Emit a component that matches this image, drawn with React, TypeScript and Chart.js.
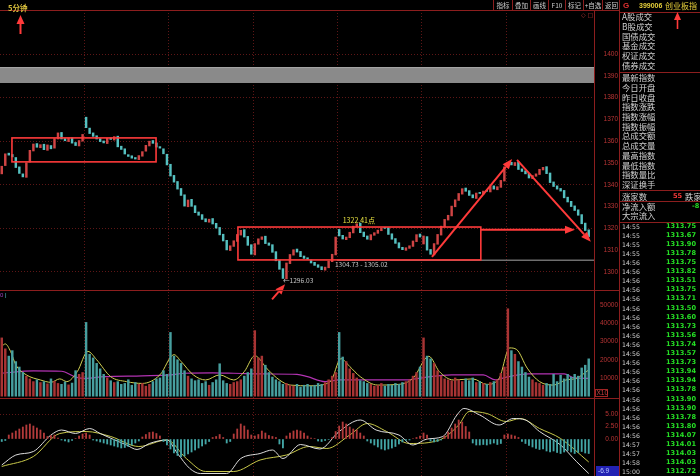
import React, { useEffect, useRef } from 'react';
import { Chart, registerables } from 'chart.js';
Chart.register(...registerables);

// ---------- data ----------
const BARS_PER_DAY = 24;
const OPEN = [
  1345.0, 1348.8, 1354.5, 1353.9, 1352.5, 1348.2, 1345.0, 1343.4, 1350.4, 1355.5,
  1358.9, 1357.0, 1358.6, 1355.8, 1358.0, 1356.8, 1361.0, 1364.0, 1361.2, 1359.8,
  1361.6, 1359.4, 1357.8, 1360.0, 1371.0, 1366.0, 1363.8, 1362.5, 1361.2, 1360.1,
  1358.9, 1361.5, 1360.5, 1362.3, 1357.7, 1356.5, 1353.8, 1353.3, 1352.5, 1351.5,
  1353.1, 1355.4, 1357.8, 1360.3, 1359.2, 1357.5, 1356.5, 1354.0, 1349.4, 1344.3,
  1341.5, 1338.3, 1335.4, 1329.9, 1333.3, 1330.4, 1327.5, 1326.3, 1324.4, 1322.8,
  1324.5, 1322.3, 1320.4, 1317.3, 1314.5, 1309.8, 1311.7, 1314.0, 1316.9, 1319.4,
  1316.3, 1312.5, 1307.8, 1312.7, 1314.9, 1316.4, 1313.3, 1312.5, 1309.3, 1305.4,
  1301.5, 1296.8, 1303.8, 1307.7, 1310.5, 1309.4, 1307.3, 1306.5, 1305.5, 1304.4,
  1303.3, 1302.4, 1300.8, 1301.9, 1304.7, 1307.8, 1319.5, 1316.8, 1314.8, 1315.7,
  1317.9, 1320.7, 1322.4, 1318.3, 1316.5, 1314.7, 1316.8, 1317.7, 1318.9, 1320.4,
  1320.3, 1317.5, 1315.3, 1313.4, 1311.3, 1309.9, 1310.8, 1311.7, 1313.9, 1317.4,
  1312.8, 1316.2, 1310.3, 1307.8, 1312.7, 1316.9, 1320.7, 1323.8, 1325.7, 1329.9,
  1332.8, 1335.7, 1338.5, 1337.3, 1335.4, 1333.7, 1336.5, 1335.7, 1337.4, 1336.7,
  1339.5, 1337.7, 1338.8, 1341.7, 1347.9, 1350.3, 1348.8, 1350.5, 1347.3, 1346.4,
  1345.3, 1342.8, 1343.9, 1344.7, 1346.8, 1348.3, 1345.4, 1341.3, 1339.5, 1338.3,
  1337.4, 1334.3, 1332.4, 1330.3, 1328.5, 1326.3, 1322.4, 1319.3,
];
const CLOSE = [
  1348.5, 1354.2, 1353.6, 1352.8, 1347.9, 1345.2, 1343.6, 1350.1, 1355.8, 1358.7,
  1357.2, 1358.4, 1356.1, 1358.3, 1356.5, 1361.2, 1363.8, 1361.0, 1360.2, 1361.4,
  1359.1, 1358.0, 1360.3, 1363.1, 1366.2, 1363.5, 1362.2, 1361.0, 1359.8, 1359.2,
  1361.3, 1360.8, 1362.1, 1357.4, 1356.2, 1354.1, 1353.0, 1352.2, 1351.8, 1353.4,
  1355.2, 1358.1, 1360.0, 1359.0, 1357.3, 1356.8, 1354.2, 1349.1, 1344.0, 1341.2,
  1338.0, 1335.1, 1330.2, 1333.0, 1330.1, 1327.2, 1326.0, 1324.1, 1323.0, 1324.2,
  1322.0, 1320.1, 1317.0, 1314.2, 1310.1, 1312.0, 1314.3, 1317.2, 1319.1, 1316.0,
  1312.2, 1308.1, 1313.0, 1315.2, 1316.1, 1313.0, 1312.2, 1309.0, 1305.1, 1301.2,
  1297.0, 1304.1, 1308.0, 1310.2, 1309.1, 1307.0, 1306.2, 1305.8, 1304.1, 1303.0,
  1302.1, 1301.0, 1302.2, 1305.0, 1308.1, 1316.0, 1316.5, 1315.1, 1316.0, 1318.2,
  1321.0, 1322.1, 1318.0, 1316.2, 1315.0, 1317.1, 1318.0, 1319.2, 1320.1, 1320.0,
  1317.2, 1315.0, 1313.1, 1311.0, 1310.2, 1311.1, 1312.0, 1314.2, 1317.1, 1316.0,
  1316.5, 1310.0, 1308.1, 1313.0, 1317.2, 1321.0, 1324.1, 1326.0, 1330.2, 1333.1,
  1336.0, 1338.2, 1337.0, 1335.1, 1334.0, 1336.2, 1336.0, 1337.1, 1337.0, 1339.2,
  1338.0, 1339.1, 1342.0, 1348.2, 1350.0, 1349.1, 1350.2, 1347.0, 1346.1, 1345.0,
  1343.1, 1344.2, 1345.0, 1347.1, 1348.0, 1345.1, 1341.0, 1339.2, 1338.0, 1337.1,
  1334.0, 1332.1, 1330.0, 1328.2, 1326.0, 1322.1, 1319.0, 1316.2,
];
const VOLUME = [
  32000, 26000, 22000, 25000, 19000, 16000, 13000, 11000, 9500, 8000, 9000, 7500, 8000, 6800, 9500, 8200, 7000, 6500, 7800, 6200, 7200, 14000, 12000, 13000,
  40500, 23000, 21000, 18000, 15000, 12000, 10000, 8500, 7500, 8000, 6500, 7000, 9000, 6000, 7500, 6500, 7000, 5500, 6500, 8000, 9500, 10000, 14000, 12000,
  35000, 22000, 20000, 18000, 14000, 11000, 9500, 8500, 9000, 7000, 8000, 6000, 7500, 9000, 17800, 8500, 7000, 6500, 7500, 8000, 9000, 11000, 13000, 15000,
  36000, 21000, 22000, 17000, 13000, 10500, 9000, 8000, 6500, 7000, 6000, 5500, 6500, 5000, 6000, 6500, 5500, 6000, 7000, 6500, 7500, 9000, 11000, 13000,
  35000, 21500, 19000, 15000, 12500, 10000, 8500, 8000, 7000, 6500, 5500, 6000, 7000, 5500, 6500, 6000, 7000, 6500, 7500, 8000, 9000, 11000, 13000, 16000,
  32000, 22000, 20500, 18000, 14000, 11000, 9500, 9000, 8500, 10000, 9000, 8000, 9500, 8500, 10000, 7500, 8000, 7000, 6500, 7500, 8000, 9000, 12500, 16000,
  48000, 25000, 23000, 19000, 16000, 13000, 10500, 9000, 7500, 7000, 6000, 7000, 6500, 12000, 8000, 11500, 9500, 12000, 10500, 12000, 11000, 15500, 17000, 20500,
];
const VOL_MA5: [number, number][] = [
  [0, 27400], [1, 28700], [2.5, 24600], [4, 17200], [7, 11700], [11, 8900], [14, 7600], [16.5, 9500], [18.5, 8000], [21.5, 13500],
  [24.5, 24600], [27, 20000], [31, 10700], [35.5, 8000], [40, 7000], [45, 11700], [49, 22800], [51, 19100], [54.5, 11700], [58, 8900],
  [62, 11700], [66, 8900], [69, 13500], [72, 22200], [75.5, 15000], [79, 8900], [82, 6100], [88, 5700], [93.5, 8000], [96.5, 20600],
  [99, 16300], [102, 10700], [107, 6100], [113, 6500], [117, 9800], [121.5, 21900], [124.5, 13500], [128.5, 8900], [134, 9500], [138, 6500],
  [141.5, 9800], [144.5, 26500], [146.5, 25600], [149.5, 15400], [153, 8000], [157, 6100], [160.5, 8900], [163.5, 9800], [167, 14400],
];
const VOL_MA10: [number, number][] = [
  [0, 12600], [9, 13900], [17, 13700], [21, 10500], [24, 9800], [29, 10700], [40, 11200], [48, 11700], [52, 12600], [60, 12800],
  [66, 12600], [75, 12200], [84, 12000], [87, 10700], [92, 8000], [96, 8900], [115, 8900], [120, 10200], [128, 11700], [137, 11700],
  [140.5, 8900], [143, 10200], [150, 12200], [160, 12200], [163, 10000], [167, 9800],
];
const MACD_HIST = [
  -0.5, -0.3, 0.8, 1.2, 1.6, 2.0, 2.4, 2.8, 3.0, 2.6, 2.2, 1.8,
  1.2, 0.5, 0.7, 0.8, 0.2, -0.2, -0.4, -0.6, -0.3, 0.1,
  0.6, 1.0, 1.2, 0.8,
  -0.2, -0.4, -0.6, -0.8, -1.0, -1.2, -1.4, -1.6, -1.8, -1.7, -1.5, -1.2, -0.8, -0.4,
  0.4, 0.9, 1.3, 1.4, 1.1, 0.6,
  -0.5, -1.2, -2.0, -2.8, -3.3, -3.6, -3.4, -3.0, -2.6, -2.2, -1.8, -1.4,
  -1.0, -0.5, 0.3, 0.5, 0.9, 0.3, -0.8, -0.5,
  1.0, 2.0, 3.0, 2.6, 1.8, 0.8, 0.6, 0.9, 1.6, 1.2, 0.7, 0.5, 0.3,
  -1.0, -1.8, 0.6, 1.2, 1.6, 1.8, 1.6, 1.2, 0.6, 0.2, 0.1,
  -0.4, -0.5, -0.3, -0.1, 0.3, 1.5, 2.6, 3.4, 3.0, 2.4, 2.0, 1.8, 1.2, 0.6,
  -0.4, -0.8, -1.2, -1.6, -2.0, -2.2, -2.0, -1.8, -1.5, -1.0, -0.6, -0.3, -0.2,
  0.1, 0.3, 0.6, 1.2, 0.8, -0.4, -0.6, -0.5, -0.2,
  0.6, 1.4, 2.2, 3.0, 3.8, 3.4, 2.5, 1.4,
  -0.8, -1.2, -1.2, -1.1, -1.2, -1.0, -0.8, -1.1, -0.9,
  0.8, 1.0, 0.8, 0.6, 0.3,
  -0.5, -0.9, -1.3, -1.6, -1.9, -2.1, -2.0, -2.4, -2.6, -2.4, -2.7, -2.9, -2.6, -2.3, -2.6, -2.9, -2.7, -2.5, -2.8, -2.9,
];
const MACD_DIF: [number, number][] = [
  [0, -5.2], [4, -3.2], [9, -2.5], [14, 0.8], [17, 1.8], [21, 1.1], [25, 2.1], [28, 1.1], [35.5, -1.2], [38.5, -2.1],
  [42, -0.9], [47, -0.2], [50, -2.9], [53.5, -5.9], [56.5, -6.9], [64, -6.9], [68, -3.9], [73.5, -2.9], [77, -2.2], [80, -3.9],
  [85, -1.1], [90.5, -2.0], [96, 1.5], [102, 3.8], [106.5, 1.8], [113, 0.8], [117, -1.2], [121, 0], [125.5, 0.5], [129.5, 4.8],
  [131.5, 6.1], [136, 4.8], [141.5, 2.8], [145.5, 4.1], [149, 3.8], [153, 1.5], [159, -1.2], [163.5, -4.5], [167, -6.9],
];
const MACD_DEA: [number, number][] = [
  [0, -5.5], [9, -3.5], [16.5, 1.1], [24, 1.5], [31, 0.5], [39, -1.5], [47, -0.2], [52.5, -3.9], [58, -6.5], [66, -6.5],
  [73.5, -4.2], [81, -3.2], [87.5, -1.5], [92.5, -1.9], [99, 0.8], [104, 3.1], [109.5, 1.5], [116, -0.9], [124.5, -0.2], [130, 2.8],
  [133, 5.5], [138, 5.1], [143.5, 3.5], [147.5, 4.1], [153, 2.1], [159, 0.1], [167, -4.6],
];

// axis ranges / labels
const PRICE_RANGE = [1291.7, 1420.2];
const PRICE_LABELS = [1300, 1310, 1320, 1330, 1340, 1350, 1360, 1370, 1380, 1390, 1400];
const VOL_RANGE = [-1000, 58300];
const VOL_LABELS = [10000, 20000, 30000, 40000, 50000];
const MACD_RANGE = [-7.4, 8.2];
const MACD_LABELS = [0, 2.5, 5];

// annotations (bar index, price)
const BAND = [1386.7, 1394.0];
const BOXES = [
  { i0: 2.9, i1: 43.9, p0: 1350.5, p1: 1361.5 },
  { i0: 67.2, i1: 136.3, p0: 1305.5, p1: 1320.6 },
];
const ARROWS = [
  [122.4, 1306.9, 145.2, 1351.8],
  [146.6, 1351.4, 167.6, 1313.8],
  [136.3, 1319.3, 163.1, 1319.3],
  [76.9, 1287.4, 80.6, 1294.3],
];
const GUIDE = { i0: 95.4, p: 1305.3 };
const NOTES = [
  { text: '1322.41点', i: 101.6, p: 1322.41, color: '#e6e040', align: 'center', base: 'alphabetic', size: 7 },
  { text: '←1296.03', i: 80.0, p: 1296.03, color: '#c4c4c4', align: 'left', base: 'middle', size: 6.6 },
  { text: '1304.73 - 1305.02', i: 94.8, p: 1303.2, color: '#c4c4c4', align: 'left', base: 'middle', size: 6.6 },
];

// side panel
const TOOLBAR = ['指标', '叠加', '画线', 'F10', '标记', '+自选', '返回'];
const TOOLBAR_W = [19, 18, 18, 17, 18, 19, 18];
const INFO_TOP = ['A股成交', 'B股成交', '国债成交', '基金成交', '权证成交', '债券成交'];
const INFO_MID = ['最新指数', '今日开盘', '昨日收盘', '指数涨跌', '指数涨幅', '指数振幅', '总成交额', '总成交量', '最高指数', '最低指数', '指数量比', '深证换手'];
const TICK_TIMES = ['14:55', '14:55', '14:55', '14:55', '14:56', '14:56', '14:56', '14:56', '14:56', '14:56', '14:56', '14:56', '14:56', '14:56',
  '14:56', '14:56', '14:56', '14:56', '14:56', '14:56', '14:56', '14:56', '14:56', '14:56', '14:57', '14:57', '14:58', '15:00'];
const TICK_PRICES = ['1313.75', '1313.67', '1313.90', '1313.78', '1313.75', '1313.82', '1313.51', '1313.75', '1313.71', '1313.50', '1313.60', '1313.73', '1313.56', '1313.74',
  '1313.57', '1313.73', '1313.94', '1313.94', '1313.78', '1313.90', '1313.90', '1313.78', '1313.80', '1314.07', '1314.01', '1314.03', '1314.03', '1312.72'];

// ---------- styles ----------
const UP = '#cf4444';
const DOWN = '#55c0c0';
const VUP = '#a83434';
const VDOWN = '#479f9f';
const GRID = '#5e1616';
const FRAME = '#8c1e1e';
const AXIS_TXT = '#b83434';
const RED = '#ff3a3a';

function drawArrow(ctx: CanvasRenderingContext2D, x1: number, y1: number, x2: number, y2: number) {
  const a = Math.atan2(y2 - y1, x2 - x1);
  const hl = 10, hw = 4;
  const bx = x2 - hl * Math.cos(a), by = y2 - hl * Math.sin(a);
  ctx.beginPath(); ctx.moveTo(x1, y1); ctx.lineTo(bx, by); ctx.stroke();
  ctx.beginPath(); ctx.moveTo(x2, y2);
  ctx.lineTo(bx + hw * Math.sin(a), by - hw * Math.cos(a));
  ctx.lineTo(bx - hw * Math.sin(a), by + hw * Math.cos(a));
  ctx.closePath(); ctx.fill();
}

const overlay = {
  id: 'overlay',
  beforeDatasetsDraw(chart: any) {
    const { ctx, chartArea: ca, scales } = chart;
    const yP = scales.yP;
    ctx.save();
    const t = yP.getPixelForValue(BAND[1]);
    const b = yP.getPixelForValue(BAND[0]);
    ctx.fillStyle = '#8a8a8a';
    ctx.fillRect(ca.left, t, ca.right - ca.left, b - t);
    ctx.fillStyle = '#a8a8a8';
    ctx.fillRect(ca.left, t, ca.right - ca.left, 1);
    ctx.restore();
  },
  afterDatasetsDraw(chart: any) {
    const { ctx, chartArea: ca, scales } = chart;
    const { x, yP, yV, yM } = scales;
    ctx.save();
    // guide line
    ctx.strokeStyle = '#6e6e6e'; ctx.lineWidth = 1.5;
    const gy = yP.getPixelForValue(GUIDE.p);
    ctx.beginPath(); ctx.moveTo(x.getPixelForValue(GUIDE.i0), gy); ctx.lineTo(ca.right, gy); ctx.stroke();
    // boxes
    ctx.strokeStyle = RED; ctx.lineWidth = 1.6;
    BOXES.forEach((bx) => {
      const l = x.getPixelForValue(bx.i0), r = x.getPixelForValue(bx.i1);
      const t = yP.getPixelForValue(bx.p1), bt = yP.getPixelForValue(bx.p0);
      ctx.strokeRect(l, t, r - l, bt - t);
    });
    // arrows
    ctx.strokeStyle = RED; ctx.fillStyle = RED; ctx.lineWidth = 2;
    ARROWS.forEach(([i0, p0, i1, p1]) => {
      drawArrow(ctx, x.getPixelForValue(i0), yP.getPixelForValue(p0), x.getPixelForValue(i1), yP.getPixelForValue(p1));
    });
    // notes
    NOTES.forEach((n) => {
      ctx.font = `${n.size}px "Noto Sans CJK SC", "Liberation Sans", sans-serif`;
      ctx.fillStyle = n.color; ctx.textAlign = n.align; ctx.textBaseline = n.base;
      ctx.fillText(n.text, x.getPixelForValue(n.i), yP.getPixelForValue(n.p));
    });
    // frames
    ctx.strokeStyle = FRAME; ctx.lineWidth = 1;
    const right = yP.right;
    [yP.top, yP.bottom, yV.bottom].forEach((yy: number) => {
      ctx.beginPath(); ctx.moveTo(0, Math.round(yy) + 0.5); ctx.lineTo(right, Math.round(yy) + 0.5); ctx.stroke();
    });
    ctx.beginPath(); ctx.moveTo(Math.round(ca.right) + 0.5, ca.top); ctx.lineTo(Math.round(ca.right) + 0.5, yM.bottom); ctx.stroke();
    ctx.beginPath(); ctx.moveTo(Math.round(right) - 0.5, 0); ctx.lineTo(Math.round(right) - 0.5, yM.bottom); ctx.stroke();
    // axis labels (right aligned)
    ctx.font = '6.5px "Liberation Sans", sans-serif';
    ctx.fillStyle = AXIS_TXT; ctx.textAlign = 'right'; ctx.textBaseline = 'middle';
    PRICE_LABELS.forEach((v) => ctx.fillText(String(v), right - 2, yP.getPixelForValue(v)));
    VOL_LABELS.forEach((v) => ctx.fillText(String(v), right - 2, yV.getPixelForValue(v)));
    MACD_LABELS.forEach((v) => ctx.fillText(v.toFixed(2), right - 2, yM.getPixelForValue(v)));
    // X10 tag
    ctx.textAlign = 'left';
    ctx.strokeStyle = '#a02424';
    ctx.strokeRect(ca.right + 1.5, yV.bottom - 8.5, 12, 7);
    ctx.fillStyle = '#c84040';
    ctx.fillText('X10', ca.right + 2.5, yV.bottom - 5);
    // last DIF tag
    const last = MACD_DIF[MACD_DIF.length - 1][1];
    ctx.fillStyle = '#2222b4';
    ctx.fillRect(ca.right + 2, yM.bottom - 10, right - ca.right - 3, 10);
    ctx.fillStyle = '#b8c8ff';
    ctx.fillText(last.toFixed(1), ca.right + 4, yM.bottom - 5);
    ctx.restore();
  },
};

const yAxisBase = (min: number, max: number, weight: number, step: number) => ({
  type: 'linear' as const,
  position: 'right' as const,
  stack: 'panels',
  stackWeight: weight,
  min, max,
  border: { display: false, dash: [1, 2] },
  ticks: { display: false, stepSize: step, includeBounds: false },
  afterFit: (s: any) => { s.width = 26; },
});

export default function App() {
  const ref = useRef<HTMLCanvasElement>(null);
  useEffect(() => {
    const candles = OPEN.map((o, i) => ({ x: i, y: [o, CLOSE[i]] }));
    const candleColors = OPEN.map((o, i) => (CLOSE[i] >= o ? UP : DOWN));
    const vol = VOLUME.map((v, i) => ({ x: i, y: v }));
    const volColors = OPEN.map((o, i) => (CLOSE[i] >= o ? VUP : VDOWN));
    const hist = MACD_HIST.map((v, i) => ({ x: i, y: v }));
    const histColors = MACD_HIST.map((v) => (v >= 0 ? '#b23a3a' : '#43a6a6'));
    const pts = (arr: [number, number][]) => arr.map(([x, y]) => ({ x, y }));
    const days = Math.floor(OPEN.length / BARS_PER_DAY);

    const chart = new Chart(ref.current!, {
      type: 'bar',
      data: {
        datasets: [
          { type: 'bar', data: candles as any, backgroundColor: candleColors, yAxisID: 'yP', grouped: false, barThickness: 1.8, borderWidth: 0 },
          { type: 'bar', data: vol as any, backgroundColor: volColors, yAxisID: 'yV', grouped: false, barThickness: 1.8, borderWidth: 0 },
          { type: 'line', data: pts(VOL_MA5) as any, yAxisID: 'yV', borderColor: '#cfcf52', borderWidth: 1, pointRadius: 0, cubicInterpolationMode: 'monotone' },
          { type: 'line', data: pts(VOL_MA10) as any, yAxisID: 'yV', borderColor: '#b233b2', borderWidth: 1.2, pointRadius: 0, cubicInterpolationMode: 'monotone' },
          { type: 'bar', data: hist as any, backgroundColor: histColors, yAxisID: 'yM', grouped: false, barThickness: 1.2, borderWidth: 0 },
          { type: 'line', data: pts(MACD_DIF) as any, yAxisID: 'yM', borderColor: '#dcdcdc', borderWidth: 1, pointRadius: 0, cubicInterpolationMode: 'monotone' },
          { type: 'line', data: pts(MACD_DEA) as any, yAxisID: 'yM', borderColor: '#c8c84a', borderWidth: 1, pointRadius: 0, cubicInterpolationMode: 'monotone' },
        ],
      },
      options: {
        responsive: false,
        animation: false,
        events: [],
        layout: { padding: { top: 10, right: 80, left: 0, bottom: 0 } },
        plugins: { legend: { display: false }, tooltip: { enabled: false } },
        scales: {
          x: {
            type: 'linear',
            min: -0.5,
            max: OPEN.length + 0.5,
            offset: false,
            grid: { color: GRID, offset: false, drawTicks: false },
            border: { display: false, dash: [1, 2] },
            ticks: { display: false },
            afterBuildTicks: (s: any) => {
              s.ticks = Array.from({ length: days - 1 }, (_, d) => ({ value: (d + 1) * BARS_PER_DAY - 0.5 }));
            },
            afterFit: (s: any) => { s.height = 0; },
          },
          yP: {
            ...yAxisBase(PRICE_RANGE[0], PRICE_RANGE[1], 280, 10),
            grid: { drawTicks: false, color: (c: any) => (Math.round(c.tick.value) % 20 === 0 && PRICE_LABELS.includes(Math.round(c.tick.value)) ? GRID : 'transparent') },
          },
          yV: {
            ...yAxisBase(VOL_RANGE[0], VOL_RANGE[1], 108, 10000),
            grid: { drawTicks: false, color: (c: any) => (VOL_LABELS.includes(Math.round(c.tick.value)) ? GRID : 'transparent') },
          },
          yM: {
            ...yAxisBase(MACD_RANGE[0], MACD_RANGE[1], 78, 2.5),
            grid: { drawTicks: false, color: (c: any) => (Math.abs(c.tick.value - 5) < 0.01 ? GRID : 'transparent') },
          },
        } as any,
      },
      plugins: [overlay],
    } as any);
    return () => chart.destroy();
  }, []);

  const cjk = '"Noto Sans CJK SC", sans-serif';
  const txt = (s: React.CSSProperties): React.CSSProperties => ({ position: 'absolute', whiteSpace: 'nowrap', ...s });
  let tx = 493;
  return (
    <div style={{ position: 'fixed', left: 0, top: 0, width: 700, height: 476, background: '#000', overflow: 'hidden' }}>
      <canvas ref={ref} width={700} height={476} style={{ position: 'absolute', left: 0, top: 0, width: 700, height: 476 }} />
      {/* top-left period label */}
      <div style={txt({ left: 8, top: 3, fontFamily: cjk, fontSize: 7.5, fontWeight: 700, color: '#d8bf3c', lineHeight: '9px' })}>5分钟</div>
      {/* toolbar */}
      {TOOLBAR.map((t, i) => {
        const left = tx; tx += TOOLBAR_W[i];
        return (
          <div key={t} style={txt({ left, top: 0, width: TOOLBAR_W[i], height: 10, borderLeft: `1px solid ${FRAME}`, boxSizing: 'border-box', fontFamily: cjk, fontSize: 6.5, lineHeight: '10px', color: '#cfcfcf', textAlign: 'center' })}>{t}</div>
        );
      })}
      <div style={txt({ left: 581, top: 11, fontFamily: 'DejaVu Sans', fontSize: 6, color: '#c83a3a', lineHeight: '8px' })}>◇ □</div>
      {/* volume panel tag */}
      <div style={txt({ left: 0, top: 292, fontFamily: 'Liberation Sans', fontSize: 6, color: '#a040c0', lineHeight: '7px' })}>0 <span style={{ color: '#5cc' }}>|</span></div>
      {/* right panel */}
      <div style={{ position: 'absolute', left: 620, top: 0, width: 80, height: 476, overflow: 'hidden' }}>
        <div style={txt({ left: 3, top: 0, fontFamily: 'Liberation Sans', fontWeight: 700, fontSize: 8, color: '#e03030', lineHeight: '11px' })}>G</div>
        <div style={txt({ left: 19, top: 0, fontFamily: 'Liberation Sans', fontWeight: 700, fontSize: 7, color: '#e6cf3a', lineHeight: '11px' })}>399006</div>
        <div style={txt({ left: 45, top: 0, fontFamily: cjk, fontSize: 8, color: '#e6cf3a', lineHeight: '11px' })}>创业板指</div>
        {[11.5, 71.5, 189.5, 200.5, 221.5].map((y) => (
          <div key={y} style={txt({ left: 0, top: y, width: 80, height: 1, background: FRAME })} />
        ))}
        {INFO_TOP.map((s, k) => (
          <div key={s} style={txt({ left: 2, top: 12.2 + k * 9.75, fontFamily: cjk, fontSize: 8.4, color: '#d2d2d2', lineHeight: '9.7px' })}>{s}</div>
        ))}
        {INFO_MID.map((s, k) => (
          <div key={s} style={txt({ left: 2, top: 73.2 + k * 9.7, fontFamily: cjk, fontSize: 8.4, color: '#d2d2d2', lineHeight: '9.7px' })}>{s}</div>
        ))}
        <div style={txt({ left: 2, top: 190.5, fontFamily: cjk, fontSize: 8.4, color: '#d2d2d2', lineHeight: '10px' })}>涨家数</div>
        <div style={txt({ left: 53, top: 190.5, fontFamily: 'DejaVu Sans', fontWeight: 700, fontSize: 6.6, color: '#ff3a3a', lineHeight: '10px' })}>55</div>
        <div style={txt({ left: 65, top: 190.5, fontFamily: cjk, fontSize: 8.4, color: '#d2d2d2', lineHeight: '10px' })}>跌家数</div>
        <div style={txt({ left: 2, top: 201.5, fontFamily: cjk, fontSize: 8.4, color: '#d2d2d2', lineHeight: '9.7px' })}>净流入额</div>
        <div style={txt({ left: 72, top: 201.5, fontFamily: 'DejaVu Sans', fontWeight: 700, fontSize: 6.6, color: '#22dd22', lineHeight: '9.7px' })}>-8</div>
        <div style={txt({ left: 2, top: 211, fontFamily: cjk, fontSize: 8.4, color: '#d2d2d2', lineHeight: '9.7px' })}>大宗流入</div>
        {TICK_TIMES.map((t, k) => (
          <React.Fragment key={k}>
            <div style={txt({ left: 2, top: 221.6 + k * 9.1, fontFamily: 'DejaVu Sans', fontSize: 6.2, color: '#d0d0d0', lineHeight: '9px' })}>{t}</div>
            <div style={txt({ right: 4, top: 221.6 + k * 9.1, fontFamily: 'DejaVu Sans', fontWeight: 700, fontSize: 6.6, color: '#25e025', lineHeight: '9px' })}>{TICK_PRICES[k]}</div>
          </React.Fragment>
        ))}
      </div>
      {/* pointer arrows (UI annotations) */}
      <svg width={700} height={476} style={{ position: 'absolute', left: 0, top: 0, pointerEvents: 'none' }}>
        <line x1={20.5} y1={34} x2={20.5} y2={22} stroke={RED} strokeWidth={2} />
        <polygon points="20.5,15 16.5,24 24.5,24" fill={RED} />
        <line x1={677.5} y1={29} x2={677.5} y2={19} stroke={RED} strokeWidth={1.6} />
        <polygon points="677.5,12 674,20 681,20" fill={RED} />
      </svg>
    </div>
  );
}
